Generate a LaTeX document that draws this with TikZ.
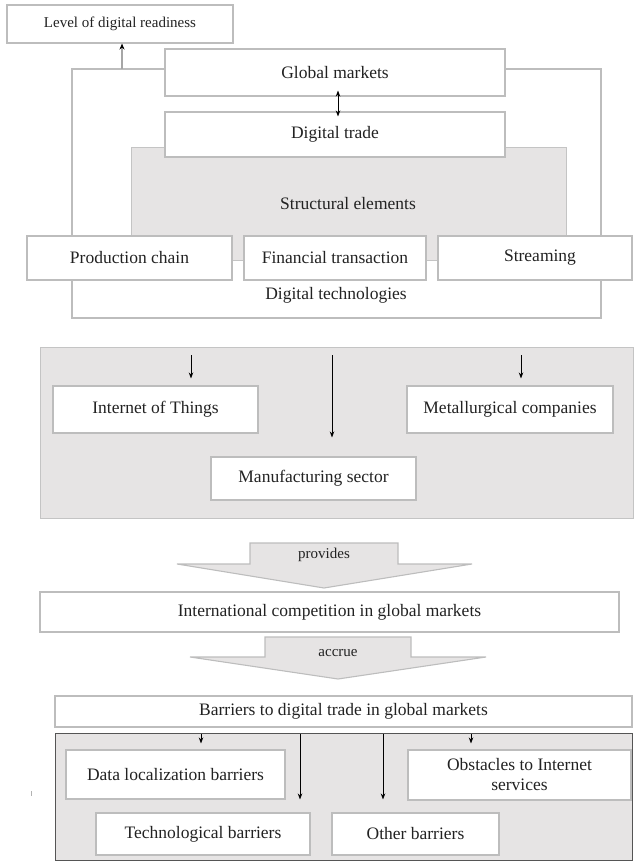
\documentclass[tikz,border=0pt]{standalone}
\usepackage{fontspec}
\setmainfont{Liberation Serif}
\usetikzlibrary{arrows.meta,calc}
\definecolor{frameline}{HTML}{BDBDBD}
\definecolor{panelfill}{HTML}{E6E4E4}
\definecolor{panelline}{HTML}{C4C4C4}
\definecolor{darkline}{HTML}{555555}
\definecolor{inktext}{HTML}{222222}
\tikzset{
  mainfont/.style={font=\fontsize{17.5}{20}\selectfont, text=inktext},
  smallfont/.style={font=\fontsize{15}{18}\selectfont, text=inktext},
  wbox/.style={draw=frameline, line width=1.1pt, fill=white, inner sep=0pt, mainfont},
  panel/.style={draw=panelline, line width=1pt, fill=panelfill},
  flowarrow/.style={draw=frameline, line width=1.1pt, fill=panelfill, line join=miter},
  pointer/.style={draw=black, line width=0.8pt, -{Stealth[length=6pt,width=4.5pt]}},
  twoway/.style={draw=black, line width=0.8pt, {Stealth[length=6pt,width=4.5pt]}-{Stealth[length=6pt,width=4.5pt]}},
  uplink/.style={draw=gray!70, line width=2pt, -{Stealth[length=6pt,width=5pt,black]}}
}
\begin{document}
\begin{tikzpicture}[x=1pt,y=-1pt]
\useasboundingbox (0,0) rectangle (635,861);

% ---- upper block: digital technologies frame ----
\draw[draw=frameline, line width=1.1pt] (72,69) rectangle (601,318);
\node[wbox, smallfont, minimum width=226pt, minimum height=38pt] (lvl) at (120,24) {Level of digital readiness};
\coordinate (frametop) at (122,69);
\draw[uplink] (frametop) -- (frametop |- lvl.south);

\draw[panel] (131,148) rectangle (566,260);
\node[wbox, minimum width=340pt, minimum height=47pt] (global) at (335,72.5) {Global markets};
\node[wbox, minimum width=340pt, minimum height=45pt] (dtrade) at (335,134.5) {Digital trade};
\draw[twoway] ($(global.south)+(3,-6)$) -- ($(dtrade.north)+(3,5)$);
\node[mainfont] (struct) at (348,204) {Structural elements};

\node[wbox, minimum width=205pt, minimum height=44pt] (prod) at (129.5,258) {Production chain};
\node[wbox, minimum width=182pt, minimum height=44pt] (fin) at (335,258) {Financial transaction};
\node[wbox, minimum width=194pt, minimum height=44pt] (stream) at (535,258) {\hspace*{10pt}Streaming};
\node[mainfont] (dtech) at (336,295) {Digital technologies};

% ---- sectors panel ----
\draw[panel] (40,347) rectangle (633,518);
\node[wbox, minimum width=205pt, minimum height=47pt] (iot) at (155.5,409.5) {Internet of Things};
\node[wbox, minimum width=206pt, minimum height=47pt] (metal) at (510,409.5) {Metallurgical companies};
\node[wbox, minimum width=205pt, minimum height=43pt] (manuf) at (313.5,478.5) {Manufacturing sector};
\coordinate (sa) at (191,355);
\coordinate (sb) at (332,355);
\coordinate (sc) at (521,355);
\draw[pointer, shorten >=7pt] (sa) -- (sa |- iot.north);
\draw[pointer, shorten >=19pt] (sb) -- (sb |- manuf.north);
\draw[pointer, shorten >=7pt] (sc) -- (sc |- metal.north);

% ---- "provides" arrow ----
\draw[flowarrow] (250,543) -- (398,543) -- (398,564) -- (472,564) -- (324,588)
  -- (177,564) -- (250,564) -- cycle;
\node[smallfont] (prov) at (324,555) {provides};

\node[wbox, minimum width=579pt, minimum height=40pt] (intl) at (329.5,612) {International competition in global markets};

% ---- "accrue" arrow ----
\draw[flowarrow] (265,637) -- (411,637) -- (411,657) -- (486,657) -- (338,679)
  -- (190,657) -- (265,657) -- cycle;
\node[smallfont] (accr) at (338,653) {accrue};

% ---- barriers ----
\node[wbox, minimum width=577pt, minimum height=31pt] (barr) at (343.5,711.5) {Barriers to digital trade in global markets};
\draw[fill=panelfill, draw=darkline, line width=1pt] (55,733) rectangle (632,860);
\node[wbox, minimum width=219pt, minimum height=49pt] (dloc) at (175.5,774.5) {Data localization barriers};
\node[wbox, minimum width=223pt, minimum height=50pt, align=center] (obst) at (519.5,775) {Obstacles to Internet\\services};
\node[wbox, minimum width=214pt, minimum height=42pt] (tech) at (203,834) {Technological barriers};
\node[wbox, minimum width=167pt, minimum height=42pt] (other) at (415.5,834) {Other barriers};
\coordinate (ba) at (201,734);
\coordinate (bb) at (300,734);
\coordinate (bc) at (383,734);
\coordinate (bd) at (471,734);
\draw[pointer, shorten >=6pt] (ba) -- (ba |- dloc.north);
\draw[pointer, shorten >=13pt] (bb) -- (bb |- tech.north);
\draw[pointer, shorten >=13pt] (bc) -- (bc |- other.north);
\draw[pointer, shorten >=6pt] (bd) -- (bd |- obst.north);

% small stray tick left of the panel
\draw[draw=gray!60, line width=0.8pt] (31,791) -- (31,796);
\end{tikzpicture}
\end{document}
